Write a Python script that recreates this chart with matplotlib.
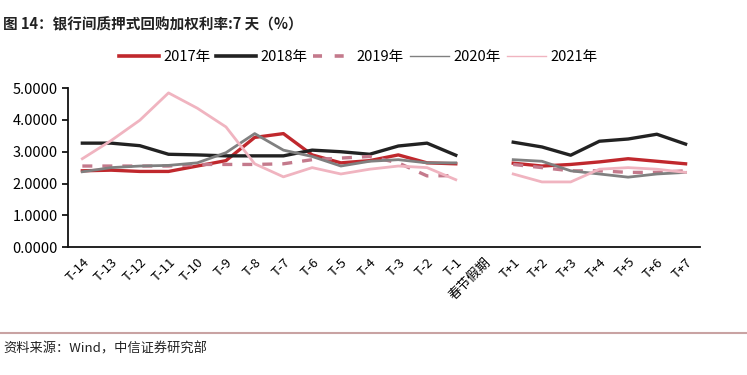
import numpy as np
import matplotlib.pyplot as plt
from matplotlib.lines import Line2D

plt.rcParams['font.family'] = ['Noto Sans CJK SC', 'DejaVu Sans']

# x categories: 14 days before, holiday, 7 days after
categories = ['T-14', 'T-13', 'T-12', 'T-11', 'T-10', 'T-9', 'T-8', 'T-7',
              'T-6', 'T-5', 'T-4', 'T-3', 'T-2', 'T-1', '春节假期',
              'T+1', 'T+2', 'T+3', 'T+4', 'T+5', 'T+6', 'T+7']

nan = np.nan
rate_2017 = [2.40, 2.42, 2.38, 2.38, 2.55, 2.72, 3.45, 3.57, 2.90, 2.65, 2.72, 2.90, 2.65, 2.62, nan,
             2.64, 2.55, 2.60, 2.68, 2.78, 2.70, 2.62]
rate_2018 = [3.27, 3.27, 3.19, 2.92, 2.90, 2.87, 2.87, 2.87, 3.05, 3.00, 2.92, 3.18, 3.27, 2.89, nan,
             3.30, 3.15, 2.89, 3.33, 3.40, 3.55, 3.24]
rate_2019 = [2.55, 2.55, 2.55, 2.55, 2.60, 2.60, 2.60, 2.62, 2.75, 2.80, 2.85, 2.65, 2.24, 2.25, nan,
             2.60, 2.50, 2.40, 2.40, 2.35, 2.35, 2.40]
rate_2020 = [2.37, 2.50, 2.55, 2.57, 2.65, 2.97, 3.57, 3.05, 2.85, 2.55, 2.70, 2.75, 2.65, 2.65, nan,
             2.75, 2.70, 2.40, 2.30, 2.20, 2.30, 2.35]
rate_2021 = [2.78, 3.35, 3.99, 4.85, 4.37, 3.78, 2.62, 2.21, 2.50, 2.30, 2.45, 2.55, 2.50, 2.12, nan,
             2.30, 2.05, 2.05, 2.45, 2.50, 2.45, 2.35]

x = np.arange(len(categories))

fig = plt.figure(figsize=(7.47, 3.75), dpi=100)
ax = fig.add_axes([0.091, 0.341, 0.846, 0.424])

styles = [
    (rate_2017, '2017年', dict(color='#c0282d', lw=2.4), 2.6),
    (rate_2018, '2018年', dict(color='#222222', lw=2.4), 2.6),
    (rate_2019, '2019年', dict(color='#c47a8c', lw=2.4, ls=(0, (3, 3))), 2.6),
    (rate_2020, '2020年', dict(color='#808080', lw=2.0), 1.0),
    (rate_2021, '2021年', dict(color='#f0b4c0', lw=2.0), 1.0),
]

handles = []
for vals, name, kw, leg_lw in styles:
    ax.plot(x, vals, **kw)
    hkw = dict(kw)
    hkw['lw'] = leg_lw
    if 'ls' in hkw:
        hkw['ls'] = (0, (2.5, 3.5))
    handles.append(Line2D([], [], label=name, **hkw))

ax.set_xlim(-0.5, len(categories) - 0.5)
ax.set_ylim(0, 5)
ax.set_yticks(np.arange(0, 5.01, 1))
ax.set_yticklabels([f'{v:.4f}' for v in np.arange(0, 5.01, 1)], fontsize=10.5)
ax.set_xticks(x)
ax.set_xticklabels(categories, rotation=45, ha='right', rotation_mode='anchor', fontsize=9.5)
ax.tick_params(axis='x', length=0, pad=6)
ax.tick_params(axis='y', length=4, width=1.2, direction='out')
for s in ['top', 'right']:
    ax.spines[s].set_visible(False)
for s in ['left', 'bottom']:
    ax.spines[s].set_linewidth(1.3)
    ax.spines[s].set_color('#111111')

fig.legend(handles=handles, loc='center', bbox_to_anchor=(0.48, 0.848), ncol=5, frameon=False,
           fontsize=10.5, handlelength=2.7, columnspacing=0.4, handletextpad=0.3)

fig.text(0.004, 0.935, '图 14：银行间质押式回购加权利率:7 天（%）', fontsize=10.5,
         fontweight='bold', color='#222222', va='center')

fig.add_artist(Line2D([0, 1], [0.112, 0.112], color='#c9a3a3', lw=1.5))
fig.text(0.004, 0.07, '资料来源：Wind，中信证券研究部', fontsize=9.5, color='#222222', va='center')

fig.savefig('out.png', dpi=100)
